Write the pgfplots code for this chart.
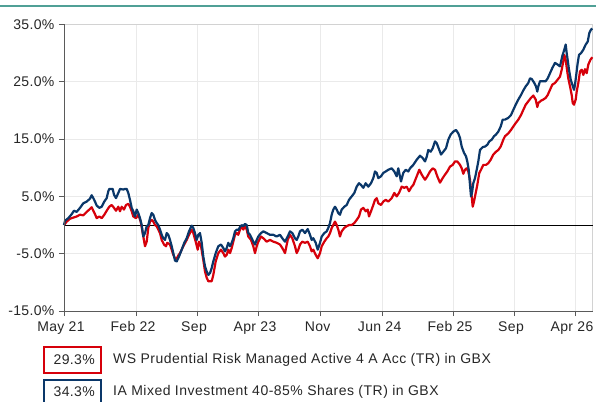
\documentclass[border=0pt]{standalone}
\usepackage{pgfplots}
\pgfplotsset{compat=1.18}
\usepackage{fontspec}
\setmainfont{Liberation Sans}
\newfontfamily\tickfont[LetterSpace=2.5]{Liberation Sans}
\newfontfamily\legfont[LetterSpace=3.5]{Liberation Sans}
\definecolor{fundred}{RGB}{214,0,10}
\definecolor{fundblue}{RGB}{10,55,105}
\definecolor{gridgray}{RGB}{234,234,234}
\definecolor{axisdark}{RGB}{90,90,90}
\definecolor{framelight}{RGB}{210,210,210}
\definecolor{teal}{RGB}{80,160,150}
\begin{document}
\begin{tikzpicture}
\useasboundingbox (-64pt,-90pt) rectangle (532pt,311pt);
\begin{axis}[
  at={(0pt,0pt)}, anchor=south west,
  scale only axis, width=528.5pt, height=286.5pt,
  xmin=64, xmax=592.5, ymin=-15, ymax=35,
  xtick={64,136,197,258,320.7,382.7,453,514,575},
  xticklabels={May 21,Feb 22,Sep,Apr 23,Nov,Jun 24,Feb 25,Sep,Apr 26},
  ytick={-15,-5,5,15,25,35},
  yticklabels={-15.0\%,-5.0\%,5.0\%,15.0\%,25.0\%,35.0\%},
  tick label style={font=\tickfont\fontsize{14}{16}\selectfont, text=black!85},
  xtick pos=lower, ytick pos=left, tick align=outside,
  major tick length=5pt,
  tick style={axisdark, line width=0.8pt},
  grid=major, major grid style={gridgray, line width=0.9pt},
  axis line style={framelight, line width=0.9pt},
  xticklabel style={yshift=-2pt, xshift=-3pt},
  yticklabel style={xshift=-1pt},
  clip=false,
]
\addplot[black, line width=1pt] coordinates {(64,0) (592.5,0)};
\addplot[fundred, line width=2.2pt, line join=round] coordinates {
(64,0) (66.7,0.6) (70,1.1) (73.3,1.3) (76.7,1.5) (80,1.8) (83.3,1.7) (86.7,2.3) (89.3,2.7) (91.7,3.1)
(93.3,2.5) (95,1.9) (96.7,1.2) (99.3,1.5) (101.7,1.2) (104.3,1.8) (106.7,2.5) (109.3,3.2) (111.7,3.5) (114,3.0)
(116,2.5) (118.3,3.2) (120,2.4) (121.7,3.2) (124,2.7) (126,3.5) (128.3,3.7) (130,3.2) (131.7,2.4) (133.3,1.5)
(136,1.2) (138.3,1.8) (140.7,0.6) (142.7,-1.4) (145,-3.7) (146.7,-2.9) (148.3,-0.5) (150,0.6) (151.7,0.9) (153.3,0.6)
(155,0) (156.7,-0.2) (158.3,-0.8) (160,-1.4) (161.7,-2.6) (164,-3.4) (166,-3.7) (167.3,-3.1) (170,-3.4) (171.7,-4.3)
(173.3,-5.2) (175,-5.8) (176.7,-5.9) (178.3,-5.3) (180,-4.9) (183.3,-3.7) (186.7,-2.6) (189,-1.7) (191.7,-0.8) (193.3,-1.4)
(195.7,-2.9) (197.7,-4.3) (199,-2.9) (201,-3.7) (203.3,-6.1) (205,-8.1) (206.7,-9.2) (208.3,-9.8) (211.7,-9.8) (213.3,-8.7)
(215.7,-6.35) (218.3,-4.9) (221,-4.3) (223.3,-4.9) (225,-5.5) (226.7,-5.2) (228.3,-4.3) (230,-4.9) (231.7,-4.0) (233.3,-2.9)
(235,-1.7) (236.7,-1.4) (238.3,-1.7) (240,-0.8) (241.7,-0.2) (243.3,-0.8) (245,-0.2) (246.7,-0.8) (248.3,-2.0) (251,-2.6)
(253.3,-3.7) (255,-4.9) (256.7,-3.7) (258.3,-2.9) (261,-2.0) (263.3,-2.3) (266.7,-2.9) (270,-2.6) (273.3,-2.9) (276.7,-3.1)
(280,-3.4) (282.3,-4.0) (285,-4.9) (287.7,-2.6) (290,-1.7) (292.3,-2.3) (295,-3.7) (296.7,-4.9) (298.3,-4.3) (300,-3.4)
(302.3,-2.9) (305,-3.1) (307.7,-2.9) (310,-3.7) (311.7,-4.6) (313.3,-4.3) (315.7,-5.2) (317.7,-5.8) (320,-4.9) (321.7,-3.7)
(324.3,-2.9) (326.7,-2.3) (328.3,-2.0) (330,-1.4) (331.7,-0.5) (333.3,0) (335,0.6) (336.7,0) (338.3,-0.8) (340,-2.0)
(341.7,-1.1) (344.3,-0.5) (346.7,-0.2) (349,0) (351.7,0) (354.3,0.35) (356.7,0.9) (359,1.5) (361,2.7) (363.3,3.0)
(365.7,2.4) (367.7,2.7) (369,1.5) (371,2.4) (373.3,3.5) (375,4.4) (376.7,4.7) (378.3,3.8) (381,3.5) (383.3,4.1)
(385.7,4.4) (388.3,4.1) (391.7,4.7) (394.3,5.6) (396.7,5.0) (399,5.6) (401.7,6.7) (404.3,6.5) (406.7,6.7) (409,5.9)
(411.7,6.7) (413.3,7.0) (416.7,8.5) (419.3,9.65) (421.7,8.8) (425,7.9) (427.3,8.5) (430,9.35) (432.7,9.9) (435,9.65)
(437.3,8.5) (440,7.4) (442.7,8.2) (445,8.8) (447.3,9.35) (450,10.2) (452.7,10.5) (455,11.1) (457.3,11.1) (460,10.5)
(461.7,9.9) (463.3,8.95) (465,9.65) (466.7,9.9) (468.3,9.35) (470,7.9) (471.7,5.0) (472.7,3.2) (474,4.1) (475.7,5.6)
(477.3,7.0) (479.3,9.1) (481,9.65) (483.3,10.5) (486,10.5) (488.3,10.8) (490.7,11.4) (493.3,12.3) (496,12.8) (498.3,13.1)
(500.7,13.7) (503.3,14.9) (505,15.5) (508.3,16.0) (511,16.6) (513.3,17.2) (515.7,17.8) (518.3,18.4) (521,19.2) (523.3,20.1)
(525.7,21.0) (528.3,21.6) (531,22.2) (533.3,22.6) (535.7,21.9) (537.3,20.6) (538.3,21.3) (541,21.7) (543.3,21.9) (545.7,22.2)
(547.7,22.7) (550,23.6) (552.3,24.5) (555,24.8) (557.7,25.4) (560,25.9) (561.7,27.1) (563.3,28.6) (564.3,29.7) (565.7,28.8)
(567,27.1) (568.3,25.6) (570,24.2) (571.7,22.7) (572.7,21.3) (574,21.0) (575.7,21.9) (576.7,23.3) (578.3,24.8) (580,26.8)
(581.7,27.1) (583.3,26.2) (585,27.2) (586.7,26.5) (588.3,28.0) (590.3,28.8) (592.3,29.3)
};
\addplot[fundblue, line width=2.2pt, line join=round] coordinates {
(64,0) (65,0.75) (68.3,1.2) (71.7,1.9) (74,2.5) (76.7,2.3) (80,3.0) (83.3,3.8) (86.7,4.1) (90,4.6)
(91.7,5.2) (93.3,4.7) (95,4.1) (96.7,3.4) (99.3,3.0) (101.7,3.2) (104.3,4.1) (106.7,4.7) (108.3,5.9) (109.3,6.3)
(112.7,6.3) (114,5.3) (116,4.7) (118.3,5.6) (120,6.3) (123.3,6.2) (125,6.3) (126.7,6.3) (128.3,5.6) (130,4.4)
(131.7,3.0) (133.3,2.4) (135,1.5) (136.7,2.7) (138.3,2.1) (140,1.2) (141.7,0) (143.3,-2.0) (145,-1.4) (146.7,-0.2)
(148.3,0) (150,1.2) (151.7,2.1) (153.3,1.8) (155,0.9) (156.7,0.35) (158.3,0) (160,-0.8) (161.7,-1.7) (163.3,-2.3)
(165,-2.6) (166.7,-1.4) (168.3,-1.7) (170,-2.6) (171.7,-3.7) (173.3,-4.9) (175,-6.2) (176.7,-6.35) (179,-5.5) (181.7,-4.3)
(184.3,-3.1) (186.7,-2.3) (189,-1.1) (191.7,-0.1) (193.3,-0.5) (195,-1.4) (196.7,-2.6) (198.3,-1.7) (200,-1.4) (201.7,-3.1)
(203.3,-5.5) (205,-7.2) (206.7,-8.1) (208.3,-8.7) (210,-8.4) (211.7,-7.5) (213.3,-6.35) (215.7,-4.9) (218.3,-3.7) (221,-3.4)
(223.3,-4.0) (225,-4.6) (226.7,-4.0) (228.3,-3.1) (230,-3.7) (231.7,-3.1) (233.3,-2.3) (235,-1.1) (236.7,-0.8) (238.3,-0.9)
(240,-0.35) (241.7,0) (243.3,-0.2) (245,0.2) (246.7,0) (248.3,-1.4) (250,-1.7) (251.7,-2.3) (253.3,-2.9) (255,-3.4)
(256.7,-2.6) (258.3,-2.0) (261,-1.4) (263.3,-1.1) (266.7,-1.4) (270,-1.7) (273.3,-1.7) (276.7,-2.0) (280,-1.7) (282.3,-2.3)
(285,-2.9) (287.7,-2.0) (290,-1.1) (292.3,-1.4) (295,-2.3) (296.7,-2.6) (298.3,-2.0) (300,-1.1) (302.3,-0.8) (305,-1.4)
(307.7,-0.7) (310,-1.7) (311.7,-2.6) (313.3,-2.3) (315.7,-3.1) (317.7,-4.3) (320,-3.1) (321.7,-2.0) (324.3,-1.4) (326.7,-1.1)
(328.3,-0.5) (330,0.35) (331.7,1.8) (333.3,2.7) (335,3.2) (336.7,2.7) (338.3,2.1) (340,1.8) (341.7,2.7) (344.3,3.2)
(346.7,3.5) (349,4.4) (351.7,5.0) (354.3,5.6) (356.7,6.7) (359,7.3) (361,7.0) (363.3,6.5) (365.7,7.3) (368.3,6.7)
(371,7.3) (373.3,8.2) (375,9.35) (376.7,9.1) (378.3,8.2) (381,8.5) (383.3,9.1) (385.7,9.35) (388.3,9.65) (391.7,9.9)
(394.3,9.35) (396.7,8.5) (398.3,9.9) (401,7.6) (403.3,9.1) (405.7,9.65) (408.3,9.35) (410,9.9) (413.3,10.5) (416.7,11.4)
(420,12.1) (422.7,11.7) (425,11.1) (426.7,11.9) (428.3,13.1) (430.7,12.8) (432.7,13.4) (435,14.6) (436.7,14.3) (439.3,13.1)
(441,12.3) (443.3,12.8) (446,13.4) (448.3,14.9) (450.7,15.8) (453.3,16.3) (456,16.6) (458.3,16.0) (460,15.2) (461.7,13.7)
(464,12.6) (466,12.0) (467.3,11.1) (468.7,9.65) (470,7.0) (471,5.0) (472,5.6) (473.3,7.3) (475,8.2) (476.7,9.65)
(478.3,11.1) (480,13.1) (482.7,13.6) (485,13.7) (487.3,14.0) (489.3,14.6) (491.7,14.9) (494,15.5) (496,15.8) (498.3,16.3)
(500.7,17.2) (502.7,18.4) (505,18.4) (508.3,18.7) (511,19.2) (513.3,20.1) (515.7,21.0) (518.3,21.9) (521,22.7) (523.3,23.5)
(525.7,24.2) (528.3,24.8) (530,25.6) (531.7,25.5) (534.3,24.8) (536,24.2) (537.3,23.3) (538.3,24.2) (540,25.1) (545.7,25.1)
(547.7,25.6) (550,26.5) (552.3,27.4) (555,28.3) (557.7,28.0) (560,27.7) (562.3,29.5) (564.3,30.6) (565.7,31.5) (566.7,30.0)
(567.7,28.8) (569,27.1) (570.7,25.4) (572.3,24.5) (574,23.6) (575,24.5) (576,25.9) (577.7,28.3) (579,29.7) (581,30.0)
(583.3,30.6) (585.7,31.5) (587.7,32.0) (589.3,33.5) (591,34.1) (592.3,34.3)
};
\draw[axisdark, line width=0.9pt] (rel axis cs:0,1) -- (rel axis cs:0,0) -- (rel axis cs:1,0);
\end{axis}
\draw[teal, line width=1.8pt] (-64pt,305pt) -- (532pt,305pt);
\draw[fundred, line width=2pt] (-20pt,-36pt) rectangle (37pt,-62pt);
\node[anchor=east, font=\tickfont\fontsize{14}{16}\selectfont, text=black!85, inner sep=0pt] at (31pt,-49pt) {29.3\%};
\node[anchor=west, font=\legfont\fontsize{14}{16}\selectfont, text=black!85, inner sep=0pt] at (49pt,-49pt) {WS Prudential Risk Managed Active 4 A Acc (TR) in GBX};
\draw[fundblue, line width=2pt] (-20pt,-69pt) rectangle (37pt,-97pt);
\node[anchor=east, font=\tickfont\fontsize{14}{16}\selectfont, text=black!85, inner sep=0pt] at (31pt,-81pt) {34.3\%};
\node[anchor=west, font=\legfont\fontsize{14}{16}\selectfont, text=black!85, inner sep=0pt] at (49pt,-81pt) {IA Mixed Investment 40-85\% Shares (TR) in GBX};
\end{tikzpicture}
\end{document}
